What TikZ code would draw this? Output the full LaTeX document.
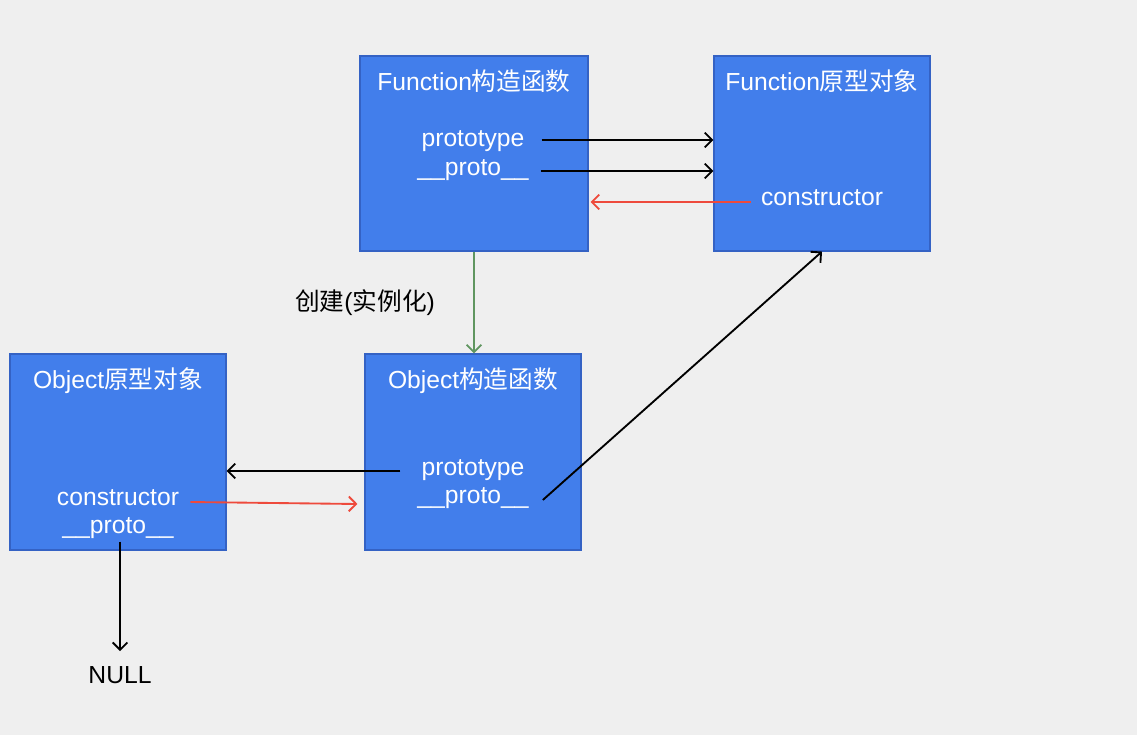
\documentclass[tikz,border=0pt]{standalone}
\usepackage{fontspec}
\setmainfont{Liberation Sans}
\newfontfamily\cjk{Noto Sans CJK SC}
\usetikzlibrary{arrows.meta,calc}
\definecolor{boxblue}{RGB}{66,126,235}
\definecolor{boxedge}{RGB}{52,98,196}
\definecolor{bg}{RGB}{239,239,239}
\definecolor{redarr}{RGB}{238,74,60}
\definecolor{greenarr}{RGB}{96,150,96}
\tikzset{
  objbox/.style={draw=boxedge, line width=0.8pt, fill=boxblue, inner sep=0pt},
  wtext/.style={text=white, font=\fontsize{18.5}{20}\selectfont, inner sep=0pt, anchor=center},
  btext/.style={text=black, font=\fontsize{18.5}{20}\selectfont, inner sep=0pt, anchor=center},
  arr/.style={line width=1.4pt, -{Straight Barb[length=5.5pt,width=11pt,line width=1.4pt]}},
}
\begin{document}
\begin{tikzpicture}[x=0.75pt,y=-0.75pt]
\fill[bg] (0,0) rectangle (1137,735);
\useasboundingbox (0,0) rectangle (1137,735);

% boxes
\node[objbox, minimum width=171pt, minimum height=146.25pt] (fc) at (474,153.5) {};
\node[objbox, minimum width=162pt, minimum height=146.25pt] (fp) at (822,153.5) {};
\node[objbox, minimum width=162pt, minimum height=147pt] (op) at (118,452) {};
\node[objbox, minimum width=162pt, minimum height=147pt] (oc) at (473,452) {};

% texts in Function constructor
\node[wtext] (fct) at (474,81) {Function{\cjk 构造函数}};
\node[wtext] (fcproto) at (473,141) {prototype};
\node[wtext] (fcpr) at (473,170) {\_\_proto\_\_};

% Function prototype object
\node[wtext] (fpt) at (822,81) {Function{\cjk 原型对象}};
\node[wtext] (fpcons) at (822,198) {constructor};

% Object prototype object
\node[wtext] (opt) at (118,381) {Object{\cjk 原型对象}};
\node[wtext] (opcons) at (118,498) {constructor};
\node[wtext] (oppr) at (118,528) {\_\_proto\_\_};

% Object constructor
\node[wtext] (oct) at (473,381) {Object{\cjk 构造函数}};
\node[wtext] (ocproto) at (473,470) {prototype};
\node[wtext] (ocpr) at (473,498) {\_\_proto\_\_};

% outside labels
\node[btext] (create) at (365,303) {{\cjk 创建}({\cjk 实例化})};
\node[btext] (null) at (120,675) {NULL};

% anchor points for connectors
\coordinate (a1) at ($(fcproto.east)+(17,-1)$);
\coordinate (a2) at ($(fcpr.east)+(12,1)$);
\coordinate (a3) at ($(fpcons.west)+(-10,4)$);
\coordinate (a3e) at ($(a3 -| fc.east)+(2,0)$);
\coordinate (a5) at ($(ocproto.west)+(-21,1)$);
\coordinate (a6) at ($(opcons.east)+(11,4)$);
\coordinate (a6e) at ($(oc.west)+(-7,52)$);
\coordinate (a7) at ($(ocpr.east)+(14,2)$);
\coordinate (a8) at ($(op.south)+(2,-9)$);
\coordinate (a8e) at ($(null.north)+(0,-15)$);

% connectors
\draw[arr] (a1) -- (a1 -| fp.west);
\draw[arr] (a2) -- (a2 -| fp.west);
\draw[arr, redarr] (a3) -- (a3e);
\draw[arr, greenarr] (fc.south) -- (fc.south |- oc.north);
\draw[arr] (a5) -- (a5 -| op.east);
\draw[arr, redarr] (a6) -- (a6e);
\draw[arr] (a7) -- (fp.south);
\draw[arr] (a8) -- (a8 |- a8e);
\end{tikzpicture}
\end{document}
